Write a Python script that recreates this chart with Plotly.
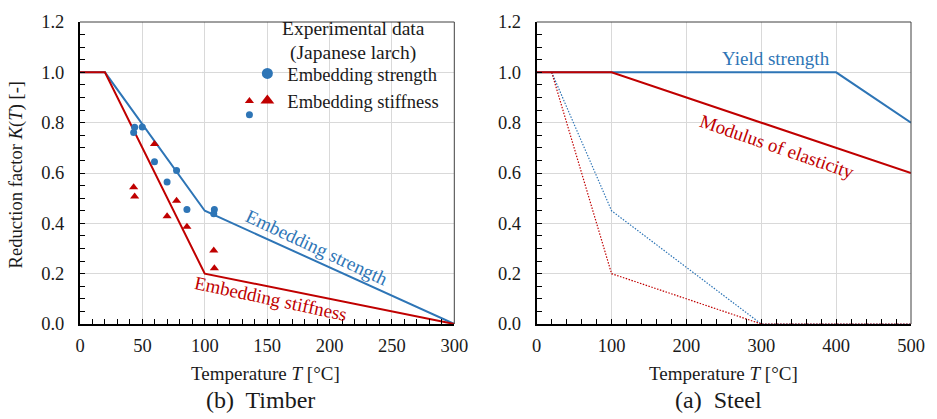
import plotly.graph_objects as go

FONT = "Liberation Serif"
BLUE = "#2E75B6"
RED = "#C00000"
TXT = "#1a1a1a"

# Timber model curves
timber_T = [0, 20, 100, 300]
timber_strength = [1.0, 1.0, 0.45, 0.0]
timber_stiffness = [1.0, 1.0, 0.20, 0.0]

# Experimental data (Japanese larch)
exp_strength_T = [43.8, 43.0, 49.9, 59.7, 77.4, 69.8, 85.7, 107.7, 107.2, 135.8]
exp_strength_K = [0.782, 0.761, 0.783, 0.645, 0.610, 0.564, 0.455, 0.455, 0.438, 0.831]
exp_stiffness_T = [59.7, 43.0, 43.8, 77.4, 69.8, 85.7, 107.2, 107.7, 135.8]
exp_stiffness_K = [0.715, 0.543, 0.507, 0.490, 0.428, 0.386, 0.292, 0.222, 0.886]

# Steel curves
steel_yield_T = [0, 20, 400, 500]
steel_yield_K = [1.0, 1.0, 1.0, 0.8]
steel_E_T = [0, 20, 100, 500]
steel_E_K = [1.0, 1.0, 1.0, 0.6]

# Timber curves reproduced on steel panel (dotted)
timber_ext_T = [20, 100, 300, 500]
timber_ext_strength = [1.0, 0.45, 0.0, 0.0]
timber_ext_stiffness = [1.0, 0.20, 0.0, 0.0]

legend_title_lines = ["Experimental data", "(Japanese larch)"]

fig = go.Figure()

# Left panel
fig.add_trace(go.Scatter(x=timber_T, y=timber_strength, mode="lines",
                         line=dict(color=BLUE, width=2), showlegend=False, xaxis="x", yaxis="y"))
fig.add_trace(go.Scatter(x=timber_T, y=timber_stiffness, mode="lines",
                         line=dict(color=RED, width=2), showlegend=False, xaxis="x", yaxis="y"))
fig.add_trace(go.Scatter(x=exp_strength_T, y=exp_strength_K, mode="markers",
                         marker=dict(color=BLUE, size=7, symbol="circle"),
                         showlegend=False, xaxis="x", yaxis="y"))
fig.add_trace(go.Scatter(x=exp_stiffness_T, y=exp_stiffness_K, mode="markers",
                         marker=dict(color=RED, size=8, symbol="triangle-up"),
                         showlegend=False, xaxis="x", yaxis="y"))
# legend entries
fig.add_trace(go.Scatter(x=[None], y=[None], mode="markers", name="Embedding strength",
                         marker=dict(color=BLUE, size=11, symbol="circle"), xaxis="x", yaxis="y"))
fig.add_trace(go.Scatter(x=[None], y=[None], mode="markers", name="Embedding stiffness",
                         marker=dict(color=RED, size=12, symbol="triangle-up"), xaxis="x", yaxis="y"))

# Right panel
fig.add_trace(go.Scatter(x=timber_ext_T, y=timber_ext_strength, mode="lines",
                         line=dict(color=BLUE, width=1.2, dash="1.5px,1.5px"), showlegend=False,
                         xaxis="x2", yaxis="y2"))
fig.add_trace(go.Scatter(x=timber_ext_T, y=timber_ext_stiffness, mode="lines",
                         line=dict(color=RED, width=1.2, dash="1.5px,1.5px"), showlegend=False,
                         xaxis="x2", yaxis="y2"))
fig.add_trace(go.Scatter(x=steel_yield_T, y=steel_yield_K, mode="lines",
                         line=dict(color=BLUE, width=2), showlegend=False, xaxis="x2", yaxis="y2"))
fig.add_trace(go.Scatter(x=steel_E_T, y=steel_E_K, mode="lines",
                         line=dict(color=RED, width=2), showlegend=False, xaxis="x2", yaxis="y2"))

W, H = 937, 419
ML, MR, MT, MB = 80, 20, 12, 95
pw = W - ML - MR
ph = H - MT - MB
d1 = [0, 377 / pw]
d2 = [(540 - ML) / pw, 1]


def px_y(y):
    return (H - MB - y) / ph


def px_x(x):
    return (x - ML) / pw


tickfont = dict(family=FONT, size=18.5, color=TXT)
common_x = dict(showline=True, linecolor="black", linewidth=2, mirror=False,
                ticks="inside", ticklen=5, tickwidth=1, tickcolor="black",
                showgrid=True, gridcolor="#d9d9d9", gridwidth=1, zeroline=False,
                tickfont=tickfont, ticklabelstandoff=4)
common_y = dict(showline=True, linecolor="black", linewidth=2, mirror=False,
                ticks="inside", ticklen=5, tickwidth=1, tickcolor="black",
                showgrid=True, gridcolor="#d9d9d9", gridwidth=1, zeroline=False,
                tickfont=tickfont, range=[0, 1.2], dtick=0.2, tickformat=".1f",
                ticklabelstandoff=10,
                minor=dict(dtick=0.05, ticks="inside", ticklen=5, tickcolor="black", showgrid=False))

fig.update_layout(
    width=W, height=H,
    margin=dict(l=ML, r=MR, t=MT, b=MB),
    paper_bgcolor="white", plot_bgcolor="white",
    font=dict(family=FONT, size=19, color=TXT),
    xaxis=dict(domain=d1, range=[0, 300], dtick=50, anchor="y",
               minor=dict(dtick=10, ticks="inside", ticklen=5, tickcolor="black", showgrid=False),
               **common_x),
    yaxis=dict(domain=[0, 1], anchor="x", **common_y),
    xaxis2=dict(domain=d2, range=[0, 500], dtick=100, anchor="y2",
                minor=dict(dtick=20, ticks="inside", ticklen=5, tickcolor="black", showgrid=False),
                **common_x),
    yaxis2=dict(domain=[0, 1], anchor="x2", **common_y),
    legend=dict(x=px_x(447), xanchor="right", y=px_y(46), yanchor="top",
                bgcolor="rgba(0,0,0,0)", borderwidth=0,
                font=dict(family=FONT, size=18.5, color=TXT),
                itemwidth=30, tracegroupgap=0),
)

# white patch behind legend (hides gridlines, as in the original)
fig.add_shape(type="rect", xref="paper", yref="paper",
              x0=px_x(256), x1=px_x(456), y0=px_y(112), y1=px_y(14),
              fillcolor="white", line=dict(width=0), layer="between")

# legend title
for ty, line in zip((19, 44), legend_title_lines):
    fig.add_annotation(x=px_x(355), y=px_y(ty), xref="paper", yref="paper",
                       text=line, showarrow=False, xanchor="center", yanchor="middle",
                       font=dict(family=FONT, size=19.5, color=TXT))

# frame top/right lines
for xr, yr in (("x domain", "y domain"), ("x2 domain", "y2 domain")):
    fig.add_shape(type="line", xref=xr, yref=yr, x0=0, x1=1, y0=1, y1=1,
                  line=dict(color="#404040", width=1))
    fig.add_shape(type="line", xref=xr, yref=yr, x0=1, x1=1, y0=0, y1=1,
                  line=dict(color="#404040", width=1))

ann_font = dict(family=FONT, size=19)
fig.add_annotation(x=190, y=0.305, xref="x", yref="y", text="Embedding strength",
                   showarrow=False, textangle=25, font=dict(color=BLUE, **ann_font))
fig.add_annotation(x=153, y=0.10, xref="x", yref="y", text="Embedding stiffness",
                   showarrow=False, textangle=12, font=dict(color=RED, **ann_font))
fig.add_annotation(x=320, y=1.054, xref="x2", yref="y2", text="Yield strength",
                   showarrow=False, font=dict(color=BLUE, **ann_font))
fig.add_annotation(x=321, y=0.704, xref="x2", yref="y2", text="Modulus of elasticity",
                   showarrow=False, textangle=19, font=dict(color=RED, **ann_font))

# axis titles and captions
for cx, cap in ((267, "(b)&#160; Timber"), (728, "(a)&#160; Steel")):
    fig.add_annotation(x=px_x(cx), y=px_y(375), xref="paper", yref="paper",
                       text="Temperature <i>T</i> [°C]", showarrow=False,
                       font=dict(family=FONT, size=19, color=TXT),
                       xanchor="center", yanchor="middle")
    fig.add_annotation(x=px_x(cx - 5), y=px_y(402), xref="paper", yref="paper",
                       text=cap, showarrow=False,
                       font=dict(family=FONT, size=24, color=TXT),
                       xanchor="center", yanchor="middle")

fig.add_annotation(x=px_x(15), y=px_y(170), xref="paper", yref="paper",
                   text="Reduction factor <i>K</i>(<i>T</i>) [-]", showarrow=False,
                   textangle=-90, font=dict(family=FONT, size=18.6, color=TXT),
                   xanchor="center", yanchor="middle")

fig.write_html("out.html")
